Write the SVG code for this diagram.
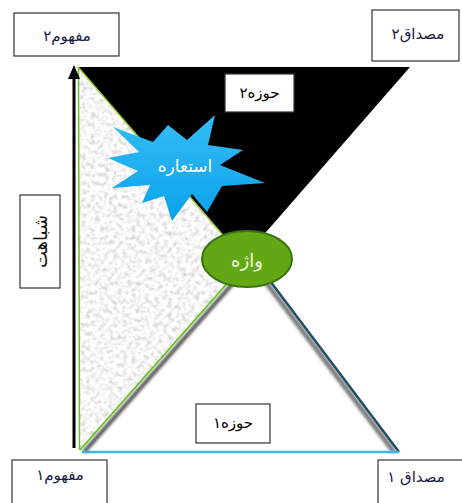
<svg xmlns="http://www.w3.org/2000/svg" width="462" height="503" viewBox="0 0 462 503">
<defs>
<style>
.box{fill:#ffffff;stroke:#333;stroke-width:1.2}
.lbl{font-family:"DejaVu Sans",sans-serif;font-size:15px;fill:#1a1a40;text-anchor:middle;dominant-baseline:central}
.wlbl{font-family:"DejaVu Sans",sans-serif;font-size:17px;fill:#ffffff;text-anchor:middle;dominant-baseline:central}
</style>
<filter id="speckle" x="0" y="0" width="1" height="1">
<feTurbulence type="fractalNoise" baseFrequency="0.22" numOctaves="2" seed="7" result="n"/>
<feColorMatrix in="n" type="matrix" values="0.8 0 0 0 0.52  0.8 0 0 0 0.52  0.8 0 0 0 0.52  0 0 0 0 1" result="g"/>
<feComposite in="g" in2="SourceGraphic" operator="in"/>
</filter>
<filter id="blur" x="-20%" y="-20%" width="140%" height="140%">
<feGaussianBlur stdDeviation="1.8"/>
</filter>
<linearGradient id="starg" x1="0" y1="0" x2="0" y2="1">
<stop offset="0" stop-color="#35bdf7"/>
<stop offset="1" stop-color="#0aa2ea"/>
</linearGradient>
<marker id="ah" viewBox="0 0 14 12" refX="0" refY="6" markerWidth="14" markerHeight="12" markerUnits="userSpaceOnUse" orient="auto">
<path d="M0,0 L14,6 L0,12 Z" fill="#000"/>
</marker>
</defs>
<rect width="462" height="503" fill="#ffffff"/>

<g id="shapes">
<polygon id="black-tri" points="78,67 410,67 240,262" fill="#000"/>
<polygon id="gray-tri" points="78,67 246,262 80,450" fill="#ddd" filter="url(#speckle)"/>
</g>

<g id="connectors">
<line x1="80" y1="450" x2="246" y2="262" stroke="#000" stroke-width="4" opacity="0.7" transform="translate(4,2)" filter="url(#blur)"/>
<line x1="78" y1="67" x2="246" y2="262" stroke="#9ccf3a" stroke-width="1.5"/>
<line x1="80" y1="450" x2="246" y2="262" stroke="#5fc41c" stroke-width="1.8"/>
<line x1="78.5" y1="67" x2="79.5" y2="450" stroke="#6cc224" stroke-width="1.5"/>
<line x1="253" y1="265" x2="394" y2="452" stroke="#777" stroke-width="5" filter="url(#blur)"/>
<line x1="258" y1="265" x2="399" y2="452" stroke="#1d4f66" stroke-width="2.5"/>
<line x1="82" y1="452" x2="399" y2="452" stroke="#3db6e6" stroke-width="2.5"/>
<line id="similarity-arrow" x1="74" y1="448" x2="74" y2="79" stroke="#000" stroke-width="3" marker-end="url(#ah)"/>
</g>

<g id="node-esteare">
<polygon points="168,125 187,140 215,115 208,145 243,150 220,165 265,183 222,186 207,212 192,194 172,221 164,196 142,203 150,185 112,188 138,171 108,158 139,152 113,127 153,142" fill="url(#starg)"/>
<text class="wlbl" x="185" y="166">استعاره</text>
</g>

<g id="node-vajeh">
<ellipse cx="247" cy="259" rx="45" ry="28" fill="#62a815" stroke="#3b7410" stroke-width="2"/>
<text class="wlbl" x="247" y="260" style="fill:#f4f4dc;font-size:18px">واژه</text>
</g>

<g id="node-mafhoom2">
<rect class="box" x="14" y="13" width="105" height="43"/>
<text class="lbl" x="67" y="36">مفهوم۲</text>
</g>

<g id="node-misdaq2">
<rect class="box" x="372" y="10" width="87" height="51"/>
<text class="lbl" x="418" y="34">مصداق۲</text>
</g>

<g id="node-mafhoom1">
<rect class="box" x="12" y="460" width="95" height="50"/>
<text class="lbl" x="60" y="475">مفهوم۱</text>
</g>

<g id="node-misdaq1">
<rect class="box" x="378" y="460" width="90" height="50"/>
<text class="lbl" x="416" y="477">مصداق ۱</text>
</g>

<g id="node-hoze2">
<rect class="box" x="225" y="74" width="69" height="38"/>
<text class="lbl" x="259.5" y="93" style="fill:#000">حوزه۲</text>
</g>

<g id="node-hoze1">
<rect class="box" x="196" y="404" width="74" height="39"/>
<text class="lbl" x="233" y="423" style="fill:#000">حوزه۱</text>
</g>

<g id="node-shebahat">
<rect class="box" x="20" y="195" width="40" height="93"/>
<text class="lbl" transform="translate(40,241.5) rotate(-90)" x="0" y="0" style="font-size:18px;fill:#111">شباهت</text>
</g>
</svg>
